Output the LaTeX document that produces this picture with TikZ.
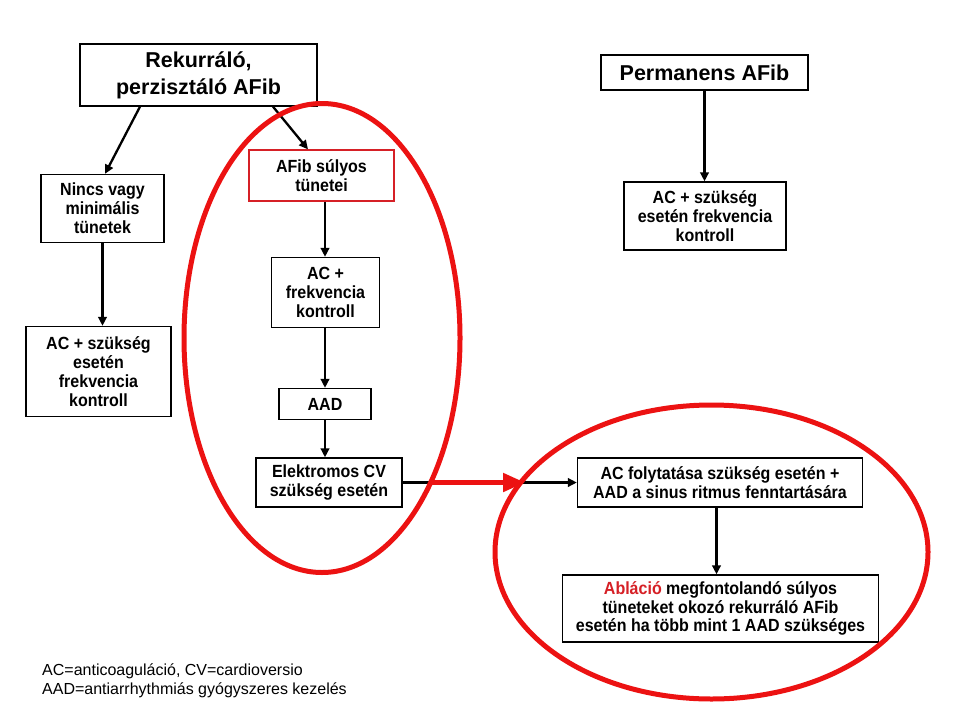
\documentclass[tikz,border=0pt]{standalone}
\usepackage{fontspec}
\setmainfont{Liberation Sans}
\newfontfamily\boxfont{Liberation Sans}[FakeStretch=0.91]
\usetikzlibrary{arrows.meta}
\definecolor{ringred}{RGB}{236,18,18}
\definecolor{ablred}{RGB}{214,32,38}

\begin{document}
\begin{tikzpicture}[x=1pt,y=-1pt,
    box/.style={draw,line width=1.3pt,fill=white,inner sep=0pt,align=center,
      font=\boxfont\bfseries\fontsize{17.6}{18.8}\selectfont},
    big/.style={box,font=\bfseries\fontsize{21.5}{27}\selectfont},
    arr/.style={line width=2.3pt,-{Triangle[length=9pt,width=8.5pt]}},
    oval/.style={draw=ringred,line width=5pt}]
    \useasboundingbox (0,0) rectangle (960,720);

    \node[big,minimum width=237pt,minimum height=62pt] (rek) at (198.5,75) {Rekurráló,\\perzisztáló AFib};
    \node[big,minimum width=207pt,minimum height=35pt] (perm) at (704.5,72.5) {Permanens AFib};

    \node[box,minimum width=123pt,minimum height=68pt] (nincs) at (102.5,208.5) {Nincs vagy\\minimális\\tünetek};
    \node[box,draw=ablred,minimum width=145pt,minimum height=51pt] (afib) at (321.5,175.5) {AFib súlyos\\tünetei};
    \node[box,minimum width=162pt,minimum height=68pt] (acr) at (705,216) {AC + szükség\\esetén frekvencia\\kontroll};

    \node[box,minimum width=108pt,minimum height=70pt] (acf) at (325.5,292.5) {AC +\\frekvencia\\kontroll};
    \node[box,minimum width=145pt,minimum height=90pt] (acl) at (98.5,371.5) {AC + szükség\\esetén\\frekvencia\\kontroll};
    \node[box,minimum width=92pt,minimum height=31pt] (aad) at (325,404) {AAD};
    \node[box,minimum width=146pt,minimum height=49pt] (elek) at (329,482.5) {Elektromos CV\\szükség esetén};

    \node[box,minimum width=285pt,minimum height=49pt] (folyt) at (720,482.5) {AC folytatása szükség esetén +\\AAD a sinus ritmus fenntartására};
    \node[box,minimum width=316pt,minimum height=67pt] (abl) at (720.5,608.5) {{\color{ablred}Abláció} megfontolandó súlyos\\tüneteket okozó rekurráló AFib\\esetén ha több mint 1 AAD szükséges};

    \node[anchor=north west,align=left,inner sep=0pt,font=\fontsize{16}{19}\selectfont] (legend) at (42,664) {AC=anticoaguláció, CV=cardioversio\\AAD=antiarrhythmiás gyógyszeres kezelés};

    \draw[arr] ([xshift=-58.5pt]rek.south) -- ([xshift=2.5pt]nincs.north);
    \draw[arr] ([xshift=74.5pt]rek.south) -- ([xshift=-13.5pt]afib.north);
    \draw[arr] (perm.south) -- (perm.south |- acr.north);
    \draw[arr] (nincs.south) -- (nincs.south |- acl.north);
    \draw[arr] (afib.south -| aad) -- (acf.north -| aad);
    \draw[arr] (acf.south -| aad) -- (aad.north);
    \draw[arr] (aad.south) -- (aad.south |- elek.north);
    \draw[arr] (elek.east) -- (folyt.west);
    \draw[arr] ([xshift=-3.5pt]folyt.south) -- ([xshift=-3.5pt]folyt.south |- abl.north);

    \draw[oval] (322,338) ellipse [x radius=138pt,y radius=234.5pt];
    \draw[oval] (711.5,552) ellipse [x radius=216.5pt,y radius=147pt];

    \coordinate (rs) at (431,482.5);
    \coordinate (re) at (525,482.5);
    \draw[ringred,line width=5pt,-{Triangle[length=22pt,width=18pt]}] (rs) -- (re);
\end{tikzpicture}
\end{document}
